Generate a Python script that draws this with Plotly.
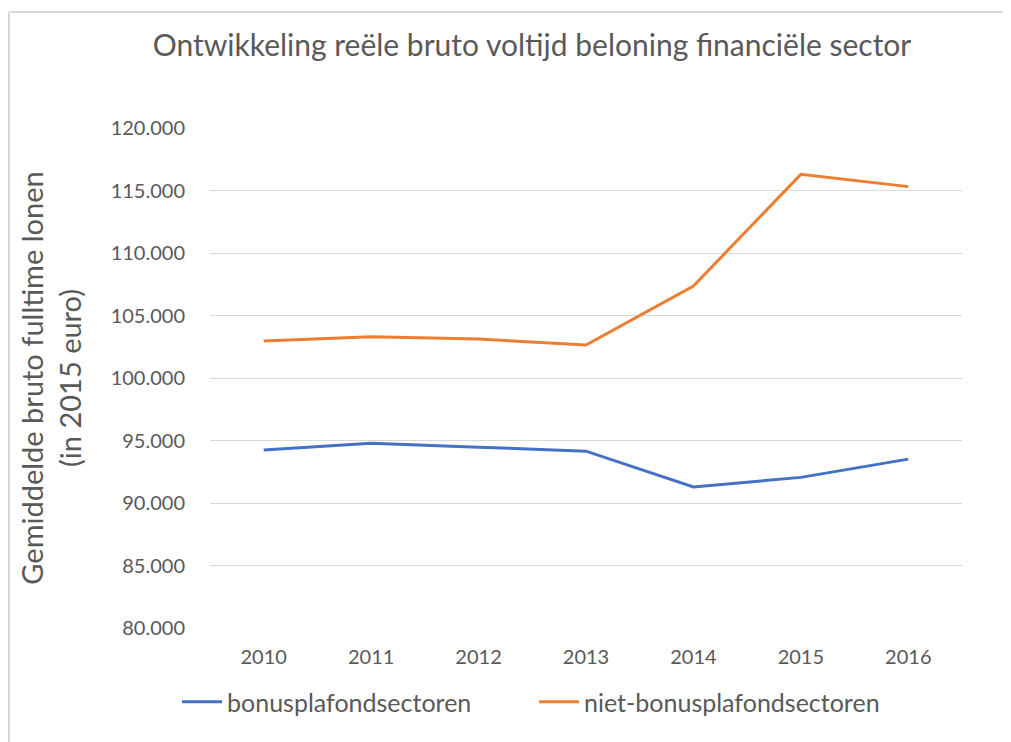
import plotly.graph_objects as go

years = ["2010", "2011", "2012", "2013", "2014", "2015", "2016"]
bonus = [94250, 94790, 94470, 94150, 91280, 92050, 93510]
niet_bonus = [102960, 103300, 103120, 102640, 107360, 116290, 115310]
tick_vals = [80000, 85000, 90000, 95000, 100000, 105000, 110000, 115000, 120000]
tick_text = ["80.000", "85.000", "90.000", "95.000", "100.000", "105.000", "110.000", "115.000", "120.000"]

OFF = 8  # page body margin
W, H = 1011 - OFF, 742 - OFF
L, R, T, B = 210 - OFF, 49, 128 - OFF, 114
pw, ph = W - L - R, H - T - B


def px(x):
    # page x -> paper x
    return (x - OFF - L) / pw


def py(y):
    # page y -> paper y
    return (H - B - (y - OFF)) / ph


FONT = "Lato"
GRAY = "#595959"

fig = go.Figure()
fig.add_trace(go.Scatter(x=years, y=bonus, mode="lines", name="bonusplafondsectoren",
                         line=dict(color="#4472C4", width=3)))
fig.add_trace(go.Scatter(x=years, y=niet_bonus, mode="lines", name="niet-bonusplafondsectoren",
                         line=dict(color="#ED7D31", width=3)))

fig.update_layout(
    width=W, height=H,
    margin=dict(l=L, r=R, t=T, b=B, autoexpand=False),
    paper_bgcolor="white", plot_bgcolor="white",
    font=dict(family=FONT, color=GRAY),
    title=dict(text="Ontwikkeling reële bruto voltijd beloning financiële sector",
               x=(532 - OFF) / W, xanchor="center", y=1 - (45 - OFF) / H, yanchor="middle",
               font=dict(size=30, color=GRAY, family=FONT)),
    xaxis=dict(type="category", range=[-0.5, 6.5], showgrid=False, zeroline=False,
               showline=False, ticks="", tickfont=dict(size=20, color=GRAY),
               ticklabelstandoff=15),
    yaxis=dict(range=[80000, 120000], tickvals=tick_vals, ticktext=tick_text,
               showgrid=True, gridcolor="#d9d9d9", gridwidth=1, zeroline=False,
               showline=False, ticks="", tickfont=dict(size=20, color=GRAY),
               ticklabelstandoff=24,
               title=dict(text="Gemiddelde bruto fulltime lonen<br>(in 2015 euro)",
                          font=dict(size=29, color=GRAY), standoff=20)),
    legend=dict(orientation="h", x=px(177), xanchor="left",
                y=py(702), yanchor="middle", font=dict(size=25, color=GRAY),
                itemwidth=40, traceorder="normal", entrywidth=302, entrywidthmode="pixels"),
    showlegend=True,
)

fig.add_shape(type="line", xref="paper", yref="paper", x0=px(9), x1=px(9), y0=py(12), y1=py(760),
              line=dict(color="#d9d9d9", width=2))
fig.add_shape(type="line", xref="paper", yref="paper", x0=px(9), x1=px(1030), y0=py(12), y1=py(12),
              line=dict(color="#d9d9d9", width=2))

fig.write_html("out.html")
